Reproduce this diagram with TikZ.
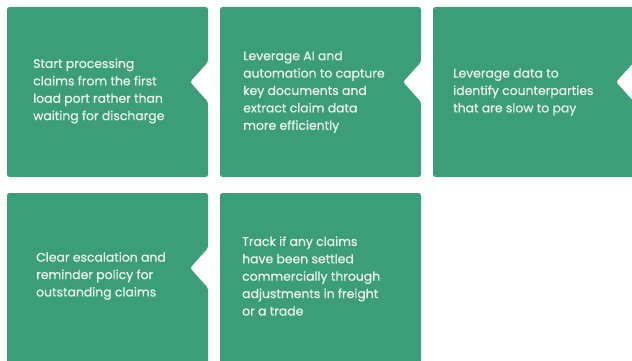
\documentclass[tikz,border=0pt]{standalone}
\usepackage{fontspec}
\setmainfont{Poppins}
\newfontfamily\cardfont{Poppins}[FakeBold=0.6]
\definecolor{cardgreen}{HTML}{3B9E79}
\definecolor{cardtext}{HTML}{EAF3EE}
\begin{document}
\begin{tikzpicture}[x=1pt,y=-1pt,
  card/.style={fill=cardgreen, rounded corners=2.5pt},
  cardlabel/.style={anchor=west, align=left, text=cardtext, inner sep=0pt,
    font=\cardfont\fontsize{12.4}{17.4}\selectfont}]
\useasboundingbox (0,0) rectangle (632,361);
\clip (0,0) rectangle (632,361);
% card whose right edge has a triangular notch cut into it
\newcommand\notchcard[2]{%
  \fill[card] (#1,#2) -- ++(201,0) -- ++(0,55) -- ++(-18,20) -- ++(18,20)
    -- ++(0,75) -- ++(-201,0) -- cycle;}
% plain card
\newcommand\plaincard[2]{%
  \fill[card] (#1,#2) rectangle ++(201,170);}

\notchcard{7}{7}
\notchcard{220}{7}
\notchcard{433}{7}
\notchcard{7}{193}
\plaincard{220}{193}

\node[cardlabel] (c1) at (33,91) {Start processing\\claims from the first\\load port rather than\\waiting for discharge};
\node[cardlabel] (c2) at (243,92) {Leverage AI and\\automation to capture\\key documents and\\extract claim data\\more efficiently};
\node[cardlabel] (c3) at (453,92) {Leverage data to\\identify counterparties\\that are slow to pay};
\node[cardlabel] (c4) at (36,276) {Clear escalation and\\reminder policy for\\outstanding claims};
\node[cardlabel] (c5) at (242,276) {Track if any claims\\have been settled\\commercially through\\adjustments in freight\\or a trade};
\end{tikzpicture}
\end{document}
